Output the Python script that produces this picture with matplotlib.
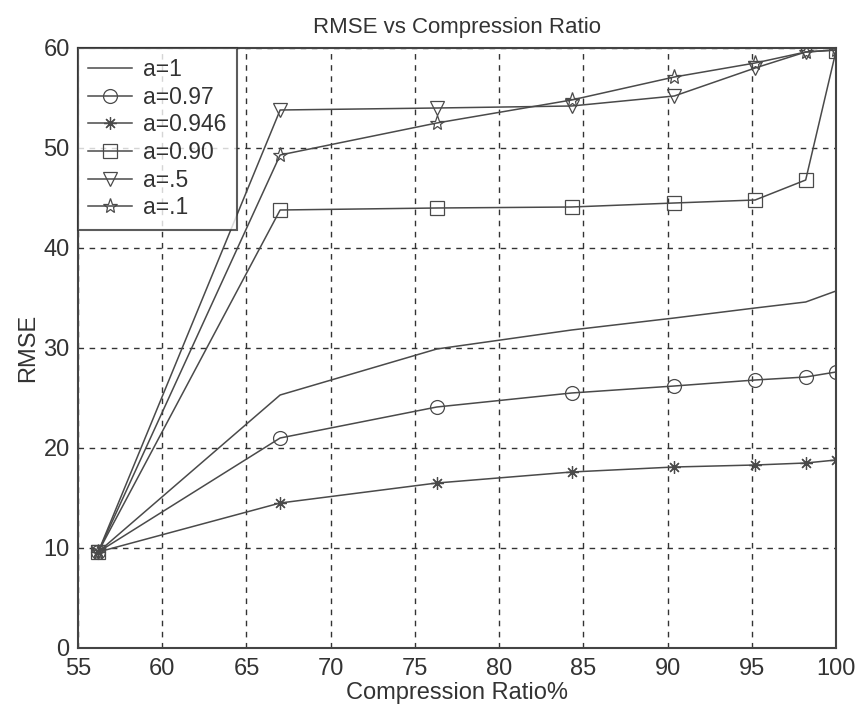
import matplotlib
matplotlib.use("Agg")
import matplotlib.pyplot as plt

compression = [56.2, 67.0, 76.3, 84.3, 90.4, 95.2, 98.2, 100.0]
rmse_a1 = [9.6, 25.3, 29.9, 31.8, 33.0, 34.0, 34.6, 35.7]
rmse_a097 = [9.6, 21.0, 24.1, 25.5, 26.2, 26.8, 27.1, 27.6]
rmse_a0946 = [9.6, 14.5, 16.5, 17.6, 18.1, 18.3, 18.5, 18.8]
rmse_a090 = [9.6, 43.8, 44.0, 44.1, 44.5, 44.8, 46.8, 59.7]
rmse_a05 = [9.6, 53.8, 54.0, 54.2, 55.2, 58.0, 59.6, 59.8]
rmse_a01 = [9.6, 49.3, 52.5, 54.8, 57.1, 58.5, 59.6, 59.8]

labels = ["a=1", "a=0.97", "a=0.946", "a=0.90", "a=.5", "a=.1"]
xticks = [55, 60, 65, 70, 75, 80, 85, 90, 95, 100]
yticks = [0, 10, 20, 30, 40, 50, 60]

plt.rcParams['font.family'] = ['Liberation Sans', 'DejaVu Sans']

fig = plt.figure(figsize=(8.56, 7.13), dpi=100)
ax = fig.add_axes([78/856, 1-648/713, (836-78)/856, (648-48)/713])

lc = '#4a4a4a'
series = [rmse_a1, rmse_a097, rmse_a0946, rmse_a090, rmse_a05, rmse_a01]
markers = [None, 'o', (8, 2, 0), 's', 'v', '*']
msizes = [0, 10, 9, 10, 10, 11]
for ys, lab, m, ms in zip(series, labels, markers, msizes):
    if m is None:
        ax.plot(compression, ys, color=lc, lw=1.1, label=lab)
    else:
        ax.plot(compression, ys, color=lc, lw=1.1, marker=m, markersize=ms,
                markerfacecolor='none', markeredgecolor=lc, markeredgewidth=0.9,
                label=lab)

ax.set_xlim(55, 100)
ax.set_ylim(0, 60)
ax.set_xticks(xticks)
ax.set_yticks(yticks)
ax.tick_params(labelsize=17, direction='in', length=0, colors='#333333')
ax.tick_params(axis='x', pad=7)
ax.tick_params(axis='y', pad=6)
ax.grid(True, color='#333333', linestyle=(0, (4, 4)), linewidth=1.0)
for s in ax.spines.values():
    s.set_color('#444444')
    s.set_linewidth(1.5)

ax.set_title('RMSE vs Compression Ratio', fontsize=16, color='#333333', pad=11)
ax.set_xlabel('Compression Ratio%', fontsize=17, color='#333333', labelpad=2)
ax.set_ylabel('RMSE', fontsize=17, color='#333333', labelpad=3)

leg = ax.legend(loc='upper left', fontsize=16.5, frameon=True, fancybox=False,
                edgecolor='#333333', borderaxespad=0, handlelength=1.9,
                handletextpad=0.5, labelspacing=0.2, borderpad=0.45)
leg.get_frame().set_linewidth(1.5)
for t in leg.get_texts():
    t.set_color('#333333')

fig.savefig('out.png', dpi=100)
